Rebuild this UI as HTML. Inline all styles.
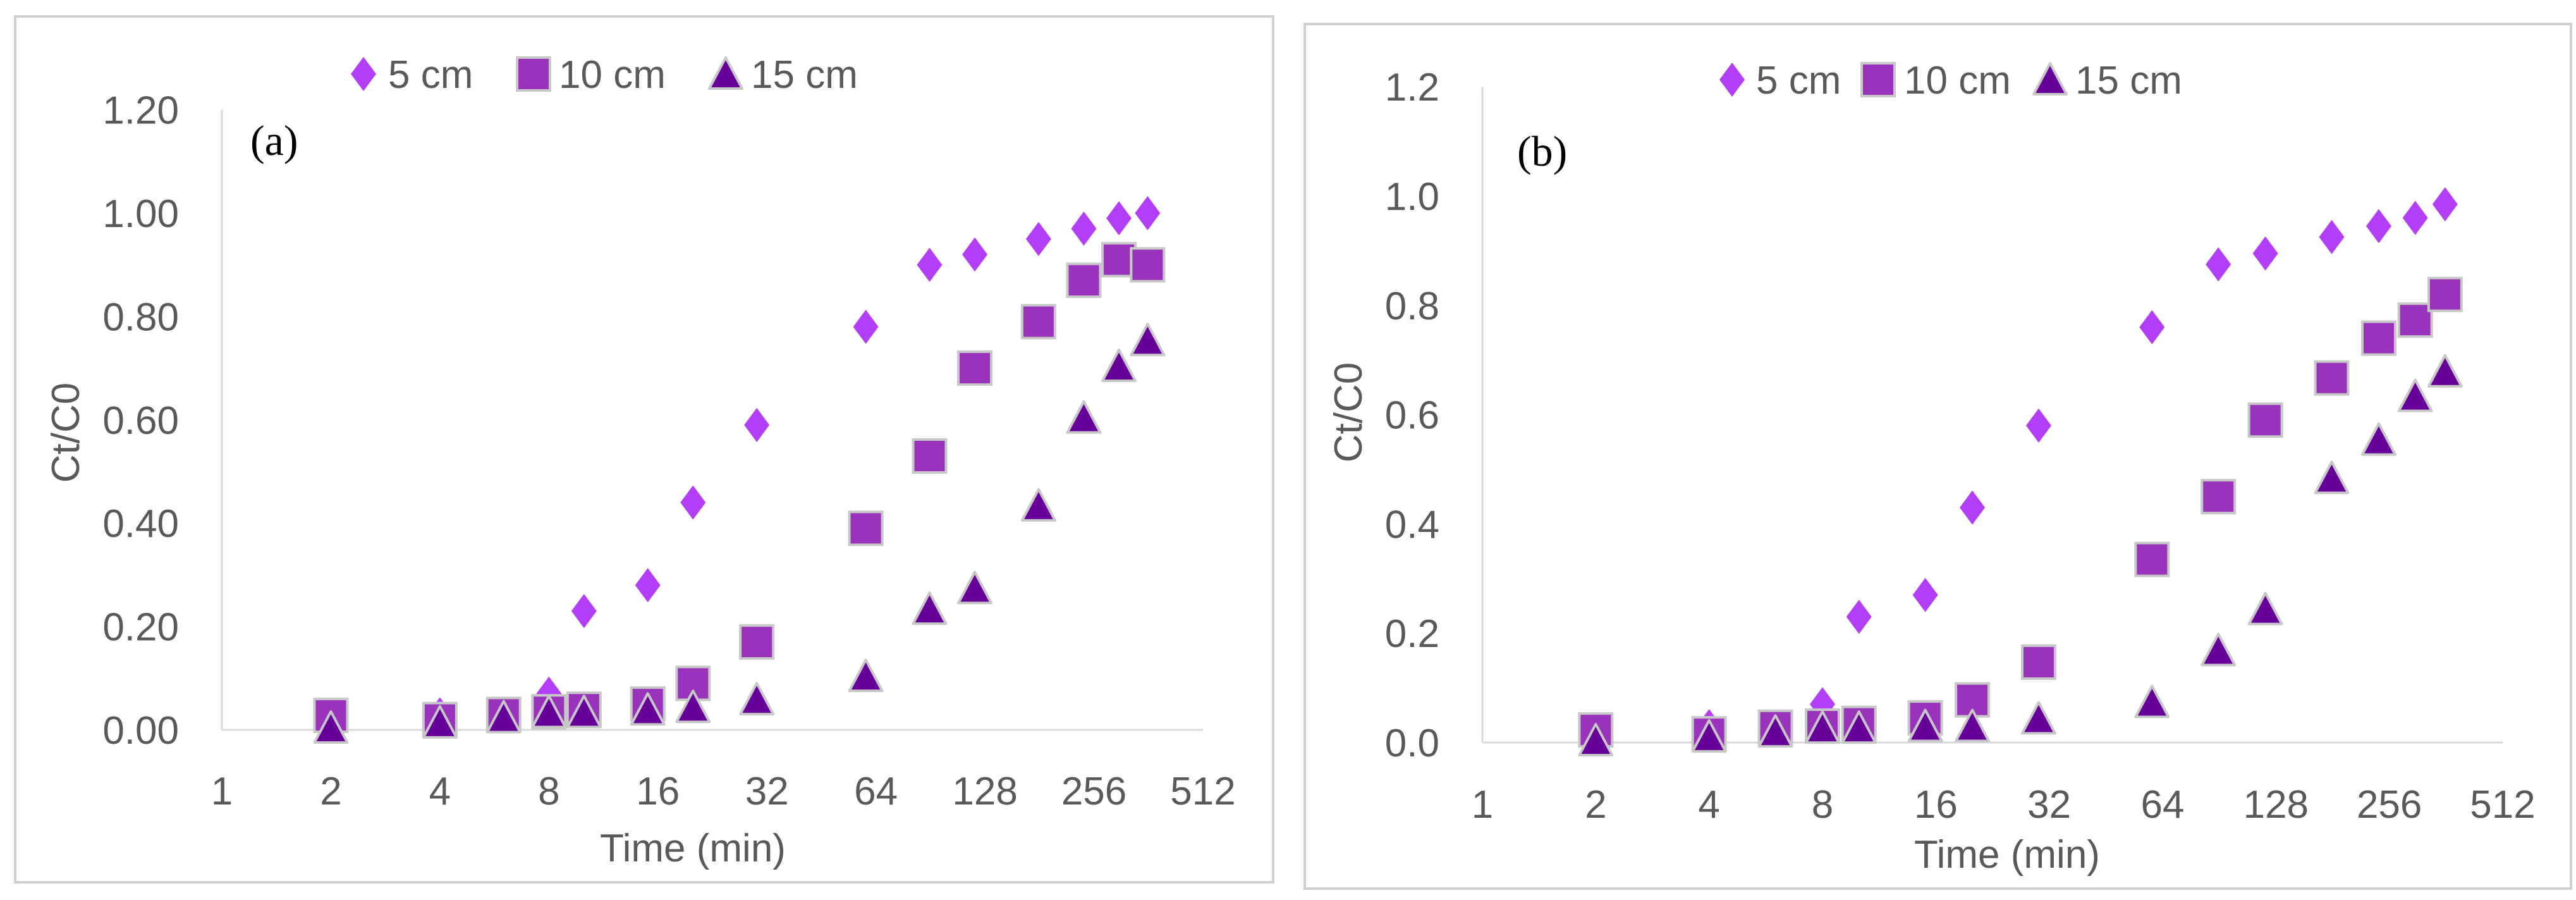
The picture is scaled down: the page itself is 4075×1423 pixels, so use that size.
<!DOCTYPE html>
<html><head><meta charset="utf-8"><style>
html,body{margin:0;padding:0;background:#fff;}
svg{display:block;font-family:"Liberation Sans",sans-serif;}
</style></head><body>
<svg id="svg" width="4075" height="1423" viewBox="0 0 4075 1423" xmlns="http://www.w3.org/2000/svg"></svg>
<script>
const times = [2,4,6,8,10,15,20,30,60,90,120,180,240,300,360];
const a5  = [null,0.03,0.03,0.07,0.23,0.28,0.44,0.59,0.78,0.90,0.92,0.95,0.97,0.99,1.00];
const a10 = [0.028,0.02,0.03,0.035,0.04,0.05,0.09,0.17,0.39,0.53,0.70,0.79,0.87,0.91,0.90];
const a15 = [0,0.01,0.02,0.03,0.03,0.035,0.04,0.055,0.10,0.23,0.27,0.43,0.60,0.70,0.75];
const b5  = [null,0.03,0.03,0.07,0.23,0.27,0.43,0.58,0.76,0.875,0.895,0.925,0.945,0.96,0.985];
const b10 = [0.023,0.016,0.028,0.03,0.035,0.045,0.078,0.147,0.335,0.45,0.59,0.667,0.74,0.773,0.82];
const b15 = [0,0.007,0.016,0.023,0.023,0.026,0.026,0.04,0.07,0.165,0.24,0.48,0.55,0.63,0.675];
const xTicks = [1,2,4,8,16,32,64,128,256,512];
const yTicksA = ["0.00","0.20","0.40","0.60","0.80","1.00","1.20"];
const yTicksB = ["0.0","0.2","0.4","0.6","0.8","1.0","1.2"];

const NS="http://www.w3.org/2000/svg";
const svg=document.getElementById('svg');
function mk(tag,attrs,parent){const e=document.createElementNS(NS,tag);for(const k in attrs)e.setAttribute(k,attrs[k]);(parent||svg).appendChild(e);return e;}

function panel(P){
  const g=mk('g',{});
  
  
  const border=mk('rect',{x:P.bx,y:P.by,width:P.bw,height:P.bh,fill:'#fff',stroke:'#d0d0d0','stroke-width':4},g);
  
  
  const xs=v=>P.x0+Math.log2(v)*(P.x1-P.x0)/9;
  const ys=v=>P.y0-v*(P.y0-P.y1);
  const ya=mk('line',{x1:P.x0,y1:ys(1.2),x2:P.x0,y2:P.y0,stroke:'#d9d9d9','stroke-width':3},g);
  
  
  const xa=mk('line',{x1:P.x0,y1:P.y0,x2:P.x1,y2:P.y0,stroke:'#d9d9d9','stroke-width':3},g);
  
  
  P.yTicks.forEach((t,i)=>{
    const e=mk('text',{x:P.ylx,y:ys(i*0.2)+22,'text-anchor':'end','font-size':62,fill:'#595959'},g);
    e.textContent=t;
    
    
  });
  xTicks.forEach(t=>{
    const e=mk('text',{x:xs(t),y:P.xly,'text-anchor':'middle','font-size':62,fill:'#595959'},g);
    e.textContent=t;
    
    
  });
  const xt=mk('text',{x:P.xtx,y:P.xty,'text-anchor':'middle','font-size':62,fill:'#595959'},g);
  xt.textContent='Time (min)';
  
  
  const yt=mk('text',{x:0,y:0,'text-anchor':'middle','font-size':62,fill:'#595959',transform:`translate(${P.ytx},${P.yty}) rotate(-90)`},g);
  yt.textContent='Ct/C0';
  
  
  const lab=mk('text',{x:P.lx,y:P.ly,'font-size':68,fill:'#000','font-family':'Liberation Serif, serif'},g);
  lab.textContent=P.label;
  
  
  const C5='#b23ef7',C10='#9933bb',C15='#660099';
  function diamond(cx,cy,par){return mk('path',{d:`M${cx} ${cy-27}L${cx+20} ${cy}L${cx} ${cy+27}L${cx-20} ${cy}Z`,fill:C5},par);}
  function square(cx,cy,par){return mk('rect',{x:cx-26,y:cy-26,width:52,height:52,fill:C10,stroke:'#c8c8c8','stroke-width':4},par);}
  function tri(cx,cy,par){return mk('path',{d:`M${cx} ${cy-29}L${cx+26} ${cy+20}L${cx-26} ${cy+20}Z`,fill:C15,stroke:'#c8c8c8','stroke-width':4,'stroke-linejoin':'round'},par);}
  const series=[[P.s5,diamond,'5cm'],[P.s10,square,'10cm'],[P.s15,tri,'15cm']];
  series.forEach(([vals,fn,nm])=>{
    const sg=mk('g',{},g);
    
    
    vals.forEach((v,i)=>{
      if(v===null)return;
      const m=fn(xs(times[i]),ys(v),sg);
      
      
    });
  });
  const lg=mk('g',{},g);
  
  
  const L=P.leg;
  const d=diamond(L[0],P.legy,lg);  
  const s=square(L[2],P.legy,lg);  
  const t=tri(L[4],P.legy+3,lg);  
  [['5 cm',L[1]],['10 cm',L[3]],['15 cm',L[5]]].forEach(([txt,x])=>{
    const e=mk('text',{x:x,y:P.legy+22,'font-size':62,fill:'#595959'},lg);
    e.textContent=txt;
    
    
  });
}
panel({id:'a',bx:24,by:26,bw:1990,bh:1369,x0:351,x1:1903,y0:1154,y1:337,ylx:283,xly:1272,xtx:1096,xty:1362,ytx:125,yty:684,
  lx:396,ly:245,label:'(a)',s5:a5,s10:a10,s15:a15,yTicks:yTicksA,legy:117,leg:[575,614,844,884,1148,1188]});
panel({id:'b',bx:2064,by:38,bw:2003,bh:1367,x0:2345,x1:3959,y0:1174,y1:310,ylx:2277,xly:1293,xtx:3175,xty:1372,ytx:2154,yty:652,
  lx:2400,ly:262,label:'(b)',s5:b5,s10:b10,s15:b15,yTicks:yTicksB,legy:126,leg:[2740,2778,2971,3012,3243,3283]});
</script>
</body></html>
